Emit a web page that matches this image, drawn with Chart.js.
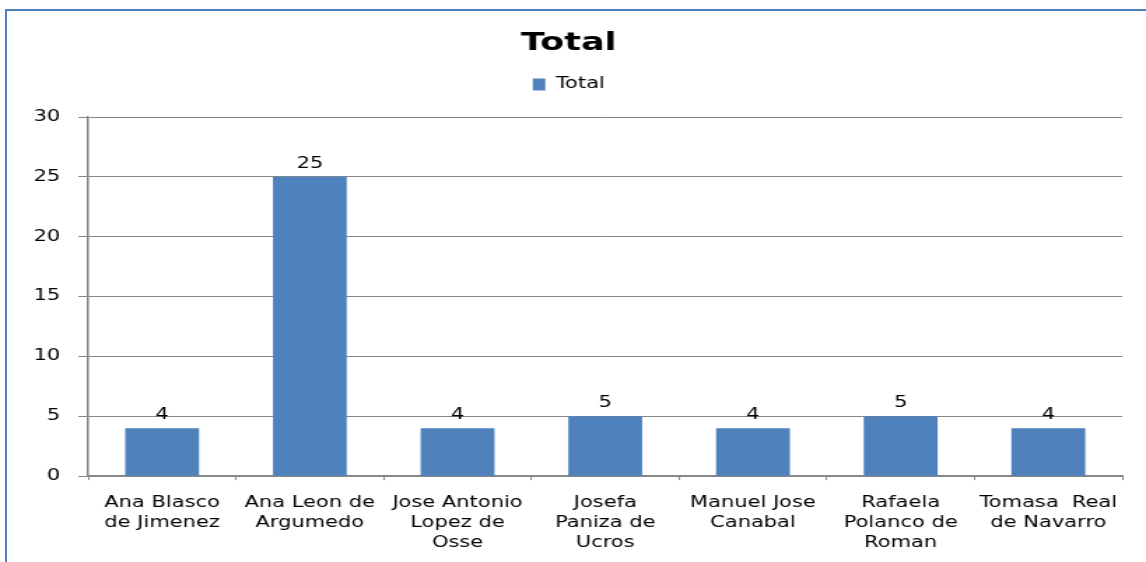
<!DOCTYPE html>
<html>
<head>
<meta charset="utf-8">
<script src="https://cdn.jsdelivr.net/npm/chart.js@4"></script>
<style>
  html, body { margin: 0; padding: 0; background: #fff; overflow: hidden; }
  #wrap { position: relative; width: 1146px; height: 562px; }
  #frame { position: absolute; left: 5px; top: 9px; width: 1200px; height: 600px;
           border: 2px solid #4F81BD; box-sizing: border-box; }
  /* the original chart has wide, horizontally stretched lettering:
     draw on a narrower canvas and stretch it to the full width */
  #chart { position: absolute; left: 0; top: 0; }
</style>
</head>
<body>
<div id="wrap">
  <div id="frame"></div>
  <canvas id="chart" width="819" height="562" style="width:1146px;height:562px"></canvas>
</div>
<script>
const categories = [
  ['Ana Blasco', 'de Jimenez'],
  ['Ana Leon de', 'Argumedo'],
  ['Jose Antonio', 'Lopez de', 'Osse'],
  ['Josefa', 'Paniza de', 'Ucros'],
  ['Manuel Jose', 'Canabal'],
  ['Rafaela', 'Polanco de', 'Roman'],
  ['Tomasa  Real', 'de Navarro']
];
const totals = [4, 25, 4, 5, 4, 5, 4];
const yTicks = [0, 5, 10, 15, 20, 25, 30];

const font = "'DejaVu Sans', sans-serif";
const gridGrey = '#878787';

// writes the value above every bar
const valueLabels = {
  id: 'valueLabels',
  afterDatasetsDraw(chart) {
    const ctx = chart.ctx;
    ctx.save();
    ctx.font = '15px ' + font;
    ctx.fillStyle = '#000';
    ctx.textAlign = 'center';
    ctx.textBaseline = 'alphabetic';
    chart.getDatasetMeta(0).data.forEach((bar, i) => {
      ctx.fillText(totals[i], bar.x, bar.y - 9);
    });
    ctx.restore();
  }
};

new Chart(document.getElementById('chart'), {
  type: 'bar',
  data: {
    labels: categories,
    datasets: [{
      label: 'Total',
      data: totals,
      backgroundColor: '#4F81BD',
      categoryPercentage: 1,
      barPercentage: 0.5
    }]
  },
  plugins: [valueLabels],
  options: {
    responsive: false,
    animation: false,
    layout: { padding: { left: 11, right: 17, top: 12, bottom: -4 } },
    plugins: {
      title: {
        display: true,
        text: 'Total',
        color: '#000',
        font: { family: font, size: 25, weight: 'bold', lineHeight: 1.2 },
        padding: { top: 16, bottom: -6 }
      },
      // empty box under the legend, only used as space above the plot
      subtitle: {
        display: true,
        text: '',
        weight: 500,
        font: { size: 1, lineHeight: 1 },
        padding: { top: 14, bottom: 0 }
      },
      legend: {
        labels: {
          color: '#000',
          font: { family: font, size: 15 },
          boxWidth: 9,
          boxHeight: 12,
          padding: 25
        }
      },
      tooltip: { enabled: false }
    },
    scales: {
      x: {
        grid: {
          offset: true,
          drawOnChartArea: false,
          color: gridGrey,
          tickLength: 4
        },
        border: { color: gridGrey, width: 2 },
        ticks: {
          color: '#000',
          font: { family: font, size: 15, lineHeight: 1.33 },
          maxRotation: 0,
          autoSkip: false,
          padding: 13
        }
      },
      y: {
        min: 0,
        max: 30,
        afterBuildTicks: axis => { axis.ticks = yTicks.map(v => ({ value: v })); },
        grid: { color: gridGrey, tickLength: 7 },
        border: { color: gridGrey, width: 1.5 },
        ticks: {
          color: '#000',
          font: { family: font, size: 15 },
          padding: 13
        }
      }
    }
  }
});
</script>
</body>
</html>
